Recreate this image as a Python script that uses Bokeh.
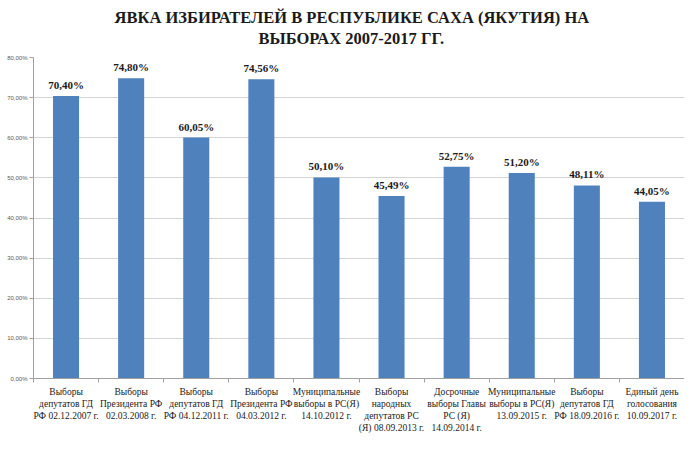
from bokeh.plotting import figure
from bokeh.models import ColumnDataSource, FixedTicker, Range1d, Title
from bokeh.embed import file_html
from bokeh.resources import INLINE
from bokeh.core.properties import value

categories = [
    "Выборы\nдепутатов ГД\nРФ 02.12.2007 г.",
    "Выборы\nПрезидента РФ\n02.03.2008 г.",
    "Выборы\nдепутатов ГД\nРФ 04.12.2011 г.",
    "Выборы\nПрезидента РФ\n04.03.2012 г.",
    "Муниципальные\nвыборы в РС(Я)\n14.10.2012 г.",
    "Выборы\nнародных\nдепутатов РС\n(Я) 08.09.2013 г.",
    "Досрочные\nвыборы Главы\nРС (Я)\n14.09.2014 г.",
    "Муниципальные\nвыборы в РС(Я)\n13.09.2015 г.",
    "Выборы\nдепутатов ГД\nРФ 18.09.2016 г.",
    "Единый день\nголосования\n10.09.2017 г.",
]
turnout = [70.40, 74.80, 60.05, 74.56, 50.10, 45.49, 52.75, 51.20, 48.11, 44.05]
y_ticks = [0, 10, 20, 30, 40, 50, 60, 70, 80]
y_tick_labels = ["0,00%", "10,00%", "20,00%", "30,00%", "40,00%", "50,00%", "60,00%", "70,00%", "80,00%"]
title_line1 = "ЯВКА ИЗБИРАТЕЛЕЙ В РЕСПУБЛИКЕ САХА (ЯКУТИЯ) НА"
title_line2 = "ВЫБОРАХ 2007-2017 ГГ."

n = len(categories)
xs = [i + 0.5 for i in range(n)]
labels = [("%.2f" % v).replace(".", ",") + "%" for v in turnout]

src = ColumnDataSource(dict(x=xs, top=turnout, label=labels))

p = figure(width=684, height=435, output_backend="svg", toolbar_location=None,
           x_range=Range1d(0, n), y_range=Range1d(0, 80))
p.min_border_left = 33
p.min_border_right = 0
p.min_border_top = 57
p.min_border_bottom = 0
p.outline_line_color = None
p.background_fill_color = "white"
p.border_fill_color = "white"

def style_title(t):
    t.align = "left"
    t.text_font = "Liberation Serif"
    t.text_font_style = "bold"
    t.text_font_size = "16.5px"
    t.text_color = "#1a1a1a"

p.title.text = title_line1
style_title(p.title)
p.title.offset = 81
p.title.standoff = -20
t2 = Title(text=title_line2)
style_title(t2)
t2.offset = 225
t2.standoff = 20
p.add_layout(t2, "above")

p.vbar(x="x", top="top", width=0.4, source=src, fill_color="#4F81BD", line_color=None)
p.text(x="x", y="top", text="label", source=src, text_align="center",
       text_baseline="bottom", y_offset=-5, text_font=value("Liberation Serif"),
       text_font_style="bold", text_font_size="11px", text_color="#1a1a1a")

p.xgrid.grid_line_color = None
p.ygrid.ticker = FixedTicker(ticks=y_ticks)
p.ygrid.grid_line_color = "#d4d4d4"

p.yaxis.ticker = FixedTicker(ticks=y_ticks)
p.yaxis.major_label_overrides = {t: l for t, l in zip(y_ticks, y_tick_labels)}
p.yaxis.major_label_text_font = "Liberation Sans"
p.yaxis.major_label_text_font_size = "6px"
p.yaxis.major_label_text_color = "#595959"
p.yaxis.axis_line_color = "#a0a0a0"
p.yaxis.major_tick_line_color = "#a0a0a0"
p.yaxis.major_tick_out = 4
p.yaxis.major_tick_in = 0
p.yaxis.minor_tick_line_color = None
p.yaxis.major_label_standoff = 2

p.xaxis.ticker = FixedTicker(ticks=xs, minor_ticks=list(range(n + 1)))
p.xaxis.major_label_overrides = {x: c for x, c in zip(xs, categories)}
p.xaxis.major_label_text_font = "Liberation Serif"
p.xaxis.major_label_text_font_size = "9.5px"
p.xaxis.major_label_text_color = "#1a1a1a"
p.xaxis.major_label_text_line_height = 1.2
p.xaxis.major_tick_line_color = None
p.xaxis.major_tick_out = 0
p.xaxis.major_tick_in = 0
p.xaxis.minor_tick_line_color = "#a0a0a0"
p.xaxis.minor_tick_out = 4
p.xaxis.minor_tick_in = 0
p.xaxis.axis_line_color = "#a0a0a0"
p.xaxis.major_label_standoff = 4

open("out.html", "w").write(file_html(p, INLINE))
